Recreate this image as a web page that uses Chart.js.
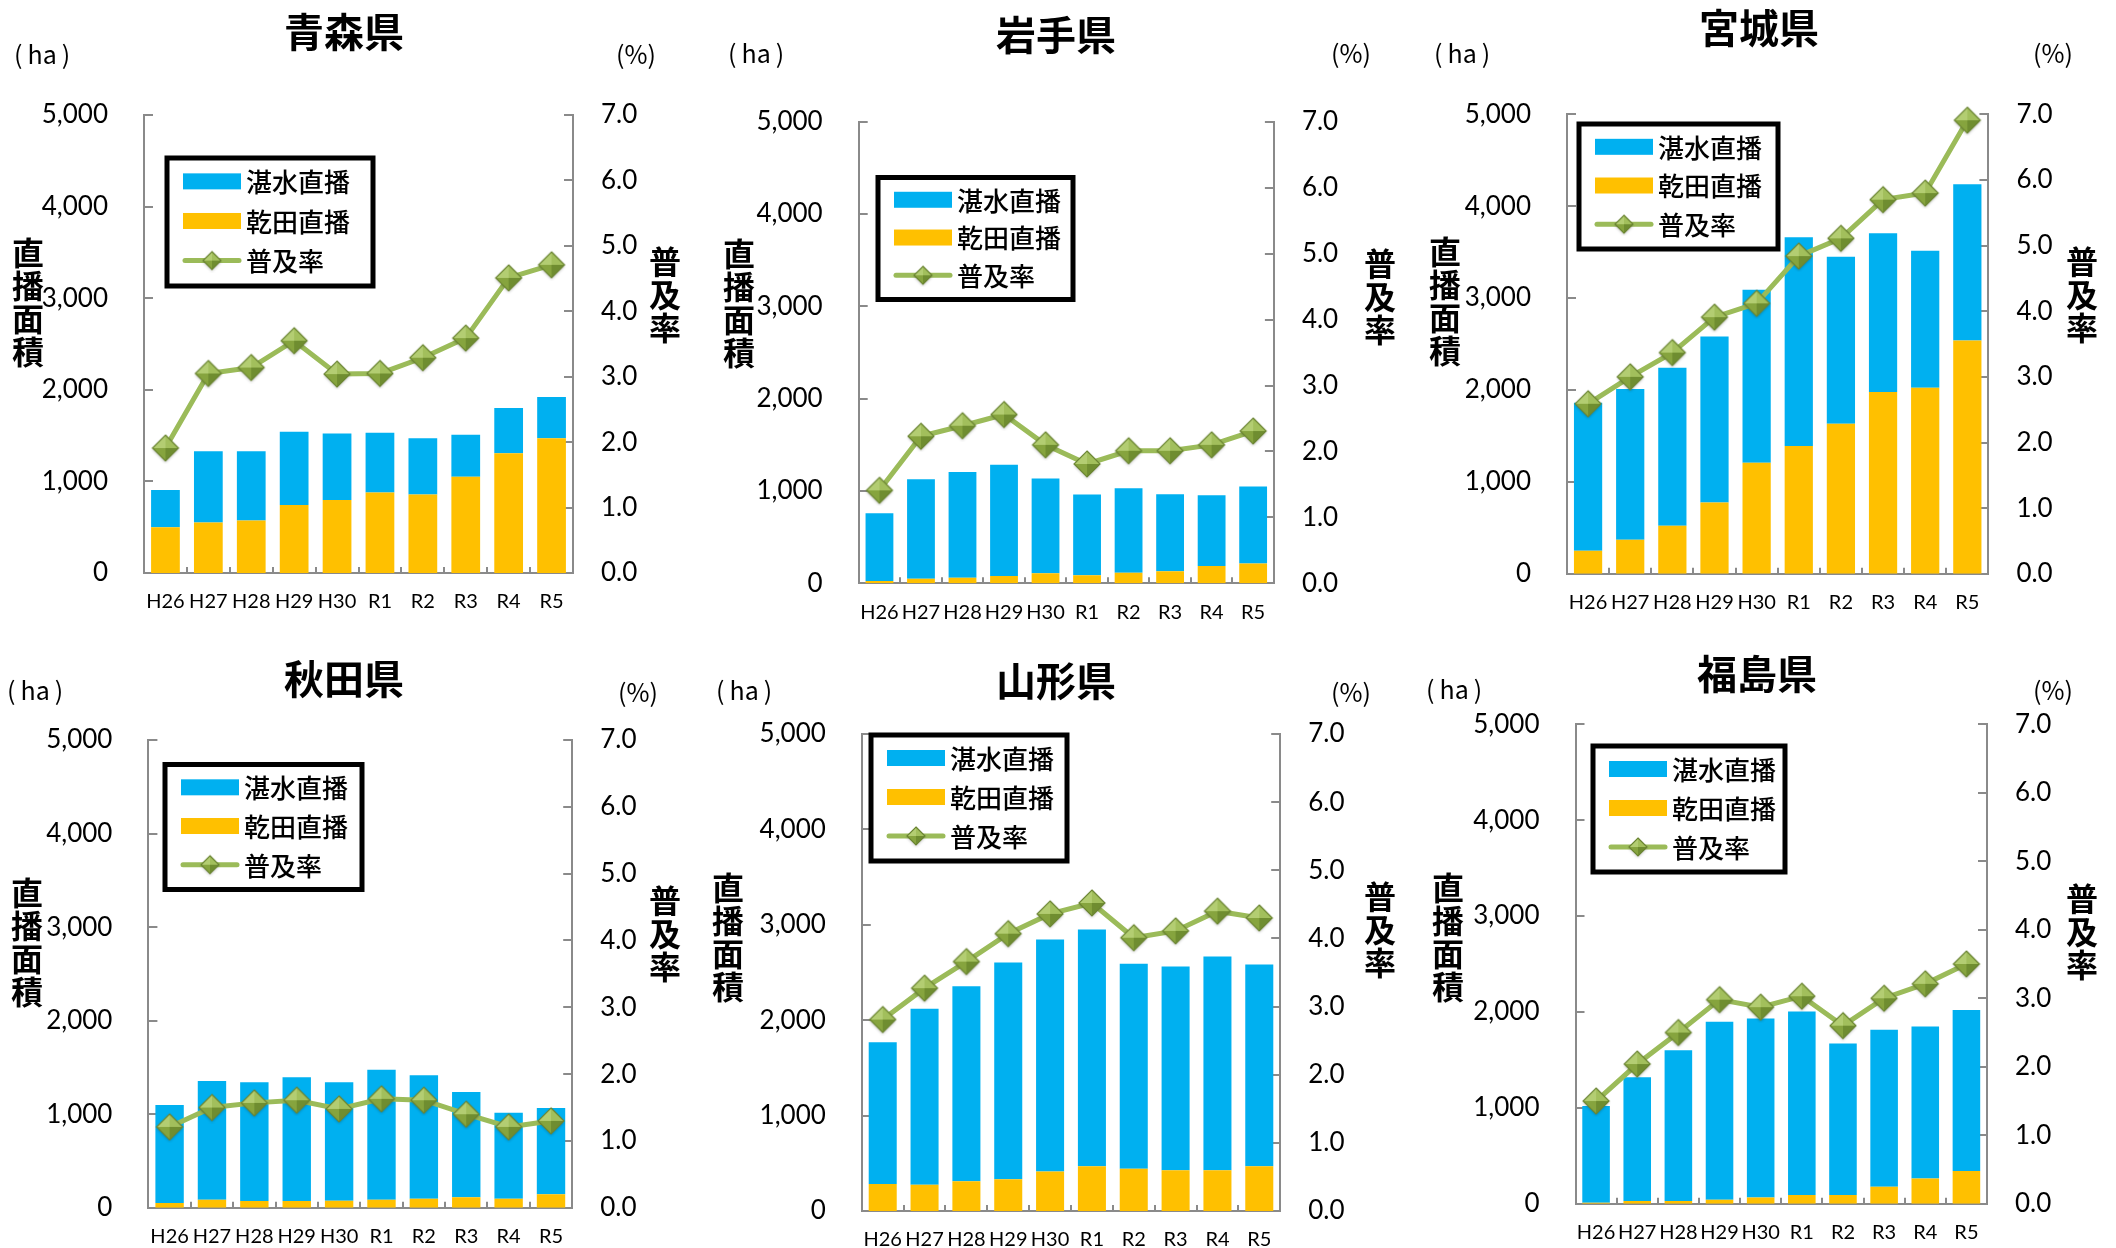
<!DOCTYPE html>
<html lang="ja">
<head>
<meta charset="utf-8">
<title>東北各県の直播面積と普及率</title>
<script src="https://cdn.jsdelivr.net/npm/chart.js@4.4.1/dist/chart.umd.min.js"></script>
<style>
  html, body { margin: 0; padding: 0; background: #fff; }
  body { width: 2116px; height: 1248px; position: relative; overflow: hidden;
         font-family: "Noto Sans CJK JP", sans-serif; }
  canvas { position: absolute; }
  .t { position: absolute; white-space: nowrap; color: #000; line-height: 1; }
  .title { font-size: 40px; font-weight: 700; transform: translate(-50%, -50%); }
  .unit { font-size: 25px; transform: translateY(-50%); }
  .vt { font-size: 32px; font-weight: 700; line-height: 33px; width: 40px; text-align: center;
        transform: translateX(-50%); white-space: pre-line; }
</style>
</head>
<body>
<script>
// Fiscal years on the category axis
const years = ['H26', 'H27', 'H28', 'H29', 'H30', 'R1', 'R2', 'R3', 'R4', 'R5'];

// Area of direct seeding (ha): flooded-paddy (湛水) and dry-paddy (乾田), and adoption rate (%)
const aomoriFlooded = [405, 776, 755, 802, 725, 651, 612, 457, 496, 452];
const aomoriDry     = [500, 552, 573, 741, 797, 879, 858, 1052, 1306, 1470];
const aomoriRate    = [1.91, 3.05, 3.14, 3.55, 3.04, 3.05, 3.29, 3.59, 4.51, 4.71];

const iwateFlooded = [734, 1080, 1145, 1206, 1027, 875, 917, 835, 765, 835];
const iwateDry     = [26, 48, 61, 79, 109, 87, 114, 131, 188, 214];
const iwateRate    = [1.41, 2.23, 2.39, 2.56, 2.10, 1.81, 2.01, 2.01, 2.10, 2.31];

const miyagiFlooded = [1611, 1641, 1719, 1805, 1883, 2271, 1818, 1727, 1490, 1701];
const miyagiDry     = [250, 371, 522, 777, 1209, 1390, 1632, 1978, 2025, 2539];
const miyagiRate    = [2.59, 3.00, 3.37, 3.91, 4.12, 4.84, 5.11, 5.70, 5.80, 6.91];

const akitaFlooded = [1049, 1269, 1269, 1324, 1265, 1391, 1320, 1125, 918, 922];
const akitaDry     = [51, 85, 72, 72, 76, 85, 97, 114, 97, 144];
const akitaRate    = [1.21, 1.50, 1.57, 1.61, 1.48, 1.63, 1.61, 1.40, 1.21, 1.30];

const yamagataFlooded = [1486, 1846, 2046, 2274, 2431, 2481, 2149, 2137, 2241, 2116];
const yamagataDry     = [282, 274, 311, 332, 415, 469, 444, 427, 427, 469];
const yamagataRate    = [2.81, 3.27, 3.66, 4.07, 4.36, 4.52, 4.01, 4.11, 4.40, 4.30];

const fukushimaFlooded = [1007, 1291, 1572, 1857, 1865, 1914, 1580, 1638, 1584, 1679];
const fukushimaDry     = [12, 29, 29, 41, 66, 91, 91, 177, 264, 342];
const fukushimaRate    = [1.50, 2.04, 2.50, 2.98, 2.87, 3.03, 2.60, 3.00, 3.21, 3.50];

const prefectures  = ['青森県', '岩手県', '宮城県', '秋田県', '山形県', '福島県'];
const floodedSets  = [aomoriFlooded, iwateFlooded, miyagiFlooded, akitaFlooded, yamagataFlooded, fukushimaFlooded];
const drySets      = [aomoriDry, iwateDry, miyagiDry, akitaDry, yamagataDry, fukushimaDry];
const rateSets     = [aomoriRate, iwateRate, miyagiRate, akitaRate, yamagataRate, fukushimaRate];

// Axis ranges
const areaMax = 5000, areaStep = 1000;
const rateMax = 7, rateStep = 1;

// Page layout of each panel (page pixels): canvas box, plot area, titles, legend box
const layouts = [
  { x0: 0,    y0: 0,   w: 705, h: 624, L: 144,   R: 573,   T: 115,   B: 573,
    title: [344, 30],  ha: [14, 53],   pct: [616, 53],   vl: [28, 235],   vr: [665, 244],  lg: [167, 158, 206, 128] },
  { x0: 705,  y0: 0,   w: 705, h: 624, L: 858.7, R: 1273.9, T: 121.8, B: 583.3,
    title: [1056, 33], ha: [728, 52],  pct: [1331, 52],  vl: [739, 236],  vr: [1380, 246], lg: [878, 177.5, 195, 122] },
  { x0: 1410, y0: 0,   w: 706, h: 624, L: 1567,  R: 1988.4, T: 114.3, B: 573.8,
    title: [1759, 26], ha: [1434, 52], pct: [2033, 52],  vl: [1445, 234], vr: [2082, 244], lg: [1579, 124, 199, 125] },
  { x0: 0,    y0: 624, w: 705, h: 624, L: 148.4, R: 572.2, T: 740,   B: 1207.8,
    title: [344, 677], ha: [7, 689],   pct: [618, 691],  vl: [27, 875],   vr: [665, 883],  lg: [165, 764.5, 197, 125] },
  { x0: 705,  y0: 624, w: 705, h: 624, L: 861.8, R: 1280.2, T: 734,   B: 1211,
    title: [1056, 679], ha: [716, 689], pct: [1331, 691], vl: [728, 870],  vr: [1380, 879], lg: [871, 735, 196, 126] },
  { x0: 1410, y0: 624, w: 706, h: 624, L: 1575.5, R: 1987, T: 724.2, B: 1203.8,
    title: [1757, 672], ha: [1426, 688], pct: [2033, 689], vl: [1448, 870], vr: [2082, 881], lg: [1593, 746, 192, 126] }
];

const BLUE = '#00B0F0', YELLOW = '#FFC000', GREEN = '#9BBB59', AXIS = '#8a8a8a';
const Y_W = 120, Y1_W = 80, X_H = 42;

// Bevelled diamond marker used for the rate line
function diamondMarker(r) {
  const s = Math.ceil(r * 2 + 6);
  const c = document.createElement('canvas');
  c.width = s; c.height = s;
  const g = c.getContext('2d');
  const m = s / 2;
  const top = [m, m - r], right = [m + r, m], bottom = [m, m + r], left = [m - r, m];
  g.save();
  g.shadowColor = 'rgba(0,0,0,0.25)';
  g.shadowBlur = 3; g.shadowOffsetY = 1.5;
  g.beginPath(); g.moveTo(...top); g.lineTo(...right); g.lineTo(...bottom); g.lineTo(...left); g.closePath();
  g.fillStyle = '#8aa845'; g.fill();
  g.restore();
  const facets = [[top, left, '#b3cd72'], [top, right, '#a2bf5c'], [right, bottom, '#6f8d30'], [bottom, left, '#86a43e']];
  facets.forEach(([a, b, col]) => {
    g.beginPath(); g.moveTo(m, m); g.lineTo(...a); g.lineTo(...b); g.closePath();
    g.fillStyle = col; g.fill();
  });
  g.beginPath(); g.moveTo(...top); g.lineTo(...right); g.lineTo(...bottom); g.lineTo(...left); g.closePath();
  g.strokeStyle = '#6a8432'; g.lineWidth = 1.2; g.stroke();
  return c;
}
const bigMarker = diamondMarker(13);
const smallMarker = diamondMarker(9);

// Short inward tick marks on all three axes
const axisMarks = {
  id: 'axisMarks',
  beforeDatasetsDraw(chart) {
    const { ctx, chartArea: a, scales } = chart;
    ctx.save();
    ctx.strokeStyle = AXIS; ctx.lineWidth = 2;
    ctx.beginPath();
    scales.y.ticks.forEach(t => {
      const py = Math.round(scales.y.getPixelForValue(t.value));
      ctx.moveTo(a.left, py); ctx.lineTo(a.left + 9, py);
    });
    scales.y1.ticks.forEach(t => {
      const py = Math.round(scales.y1.getPixelForValue(t.value));
      ctx.moveTo(a.right - 9, py); ctx.lineTo(a.right, py);
    });
    for (let i = 1; i < chart.data.labels.length; i++) {
      const px = Math.round(scales.x.getPixelForValue(i - 0.5));
      ctx.moveTo(px, a.bottom - 6); ctx.lineTo(px, a.bottom);
    }
    ctx.stroke();
    ctx.restore();
  }
};

// Boxed legend placed inside the plot
const boxLegend = {
  id: 'boxLegend',
  afterDraw(chart, args, opts) {
    const { ctx } = chart;
    const [bx, by, bw, bh] = opts.box;
    ctx.save();
    ctx.fillStyle = '#fff';
    ctx.fillRect(bx, by, bw, bh);
    ctx.strokeStyle = '#000'; ctx.lineWidth = 5;
    ctx.strokeRect(bx, by, bw, bh);
    const items = chart.data.datasets.slice().sort((p, q) => p.legendRank - q.legendRank);
    const rows = [23, 62, 101].map(v => v * bh / 126);
    items.forEach((ds, i) => {
      const cy = by + rows[i];
      const sx = bx + 16, ex = bx + 74;
      if (ds.type === 'bar') {
        ctx.fillStyle = ds.backgroundColor;
        ctx.fillRect(sx, cy - 8, ex - sx, 16);
      } else {
        ctx.strokeStyle = ds.borderColor; ctx.lineWidth = 5; ctx.lineCap = 'round';
        ctx.beginPath(); ctx.moveTo(sx + 2, cy); ctx.lineTo(ex - 2, cy); ctx.stroke();
        ctx.drawImage(smallMarker, (sx + ex) / 2 - smallMarker.width / 2, cy - smallMarker.height / 2);
      }
      ctx.fillStyle = '#000';
      ctx.font = '500 26px "Noto Sans CJK JP"';
      ctx.textBaseline = 'middle';
      ctx.textAlign = 'left';
      ctx.fillText(ds.label, bx + 79, cy + 1);
    });
    ctx.restore();
  }
};

function addText(text, cls, x, y) {
  const d = document.createElement('div');
  d.className = 't ' + cls;
  d.style.left = x + 'px';
  d.style.top = y + 'px';
  d.textContent = text;
  document.body.appendChild(d);
}

// Vertical axes: fixed width, and no extra layout padding from their end labels
function fixVertical(width) {
  return s => { s.width = width; s.paddingTop = 0; s.paddingBottom = 0; };
}

const tickFont = { family: 'Lato', size: 26 };

prefectures.forEach((name, k) => {
  const p = layouts[k];
  const cv = document.createElement('canvas');
  cv.width = p.w; cv.height = p.h;
  cv.style.left = p.x0 + 'px'; cv.style.top = p.y0 + 'px';
  document.body.appendChild(cv);

  addText(name, 'title', p.title[0], p.title[1]);
  addText('(\u2009ha\u2009)', 'unit', p.ha[0], p.ha[1]);
  addText('(%)', 'unit', p.pct[0], p.pct[1]);
  addText('直\n播\n面\n積', 'vt', p.vl[0], p.vl[1]);
  addText('普\n及\n率', 'vt', p.vr[0], p.vr[1]);

  const target = { left: p.L - p.x0, right: p.R - p.x0, top: p.T - p.y0, bottom: p.B - p.y0 };

  const chart = new Chart(cv.getContext('2d'), {
    data: {
      labels: years,
      datasets: [
        { type: 'bar', label: '乾田直播', data: drySets[k], backgroundColor: YELLOW,
          yAxisID: 'y', order: 1, legendRank: 1 },
        { type: 'bar', label: '湛水直播', data: floodedSets[k], backgroundColor: BLUE,
          yAxisID: 'y', order: 1, legendRank: 0 },
        { type: 'line', label: '普及率', data: rateSets[k], yAxisID: 'y1', order: 0, legendRank: 2,
          borderColor: GREEN, borderWidth: 5, tension: 0, clip: false,
          pointStyle: bigMarker, pointRadius: 13, pointHoverRadius: 13 }
      ]
    },
    options: {
      responsive: false,
      animation: false,
      devicePixelRatio: 1,
      events: [],
      layout: {
        autoPadding: false,
        padding: {
          left: target.left - Y_W,
          right: p.w - target.right - Y1_W,
          top: target.top,
          bottom: p.h - target.bottom - X_H
        }
      },
      datasets: { bar: { barPercentage: 0.67, categoryPercentage: 1 } },
      plugins: {
        legend: { display: false },
        tooltip: { enabled: false },
        boxLegend: { box: [p.lg[0] - p.x0, p.lg[1] - p.y0, p.lg[2], p.lg[3]] }
      },
      scales: {
        x: {
          stacked: true,
          grid: { display: false, drawTicks: false },
          border: { display: true, color: AXIS, width: 2 },
          ticks: { font: { family: 'Lato', size: 20, lineHeight: 1 }, color: '#000', padding: 19,
                   maxRotation: 0, autoSkip: false },
          afterFit: s => { s.height = X_H; s.paddingLeft = 0; s.paddingRight = 0; }
        },
        y: {
          stacked: true, position: 'left', min: 0, max: areaMax,
          grid: { display: false, drawTicks: false },
          border: { display: true, color: AXIS, width: 2 },
          ticks: { stepSize: areaStep, font: tickFont, color: '#000', padding: 36,
                   callback: v => v.toLocaleString('en-US') },
          afterFit: fixVertical(Y_W)
        },
        y1: {
          position: 'right', min: 0, max: rateMax,
          grid: { display: false, drawTicks: false },
          border: { display: true, color: AXIS, width: 2 },
          ticks: { stepSize: rateStep, font: tickFont, color: '#000', padding: 28,
                   callback: v => v.toFixed(1) },
          afterFit: fixVertical(Y1_W)
        }
      }
    },
    plugins: [axisMarks, boxLegend]
  });

  // Nudge the layout padding so the plot area sits exactly on its target box
  const a = chart.chartArea;
  const pad = chart.options.layout.padding;
  const dTop = target.top - a.top, dLeft = target.left - a.left;
  const dRight = a.right - target.right, dBottom = a.bottom - target.bottom;
  if (Math.abs(dTop) + Math.abs(dLeft) + Math.abs(dRight) + Math.abs(dBottom) > 0.5) {
    pad.top += dTop; pad.left += dLeft; pad.right += dRight; pad.bottom += dBottom;
    chart.update();
  }
});
</script>
</body>
</html>
